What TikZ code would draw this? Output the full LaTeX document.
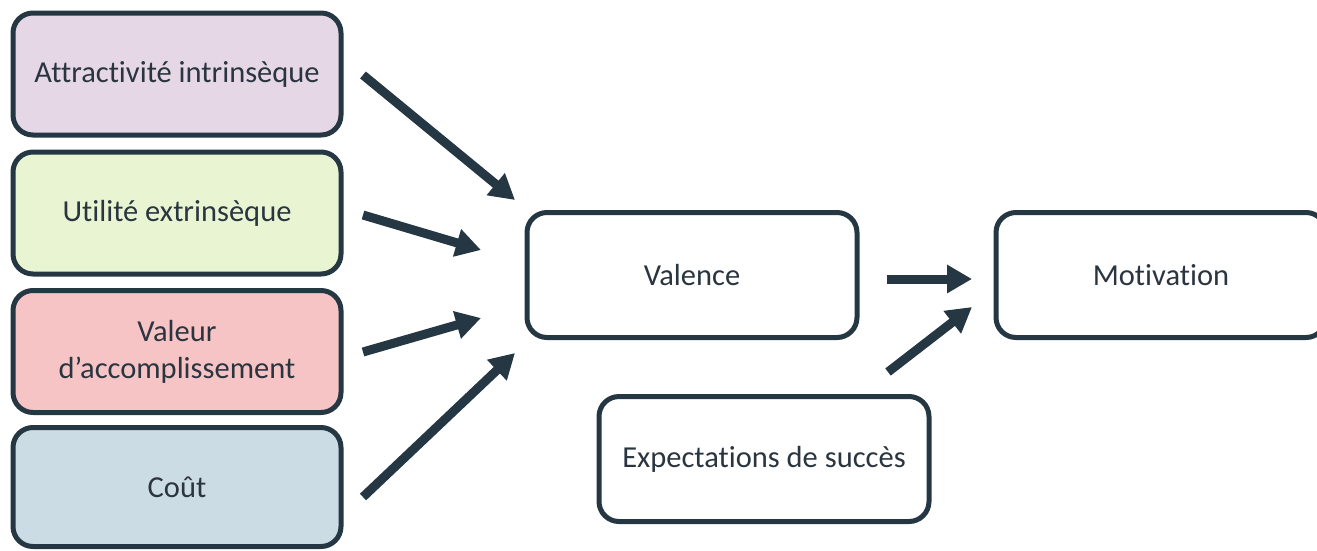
\documentclass[tikz,border=0pt]{standalone}
\usepackage{fontspec}
\setmainfont[Ligatures={NoCommon,NoContextual}]{Carlito}
\usetikzlibrary{arrows.meta}

\definecolor{ink}{HTML}{243743}
\definecolor{txt}{HTML}{2A3540}
\definecolor{fillA}{HTML}{E5D7E6}
\definecolor{fillB}{HTML}{E9F5D2}
\definecolor{fillC}{HTML}{F6C4C5}
\definecolor{fillD}{HTML}{CCDCE5}

\tikzset{
  box/.style={draw=ink, line width=5pt, rounded corners=20pt, align=center,
    text=txt, font=\fontsize{30.5}{37}\selectfont, inner sep=0pt},
  srcbox/.style={box, minimum width=328pt, minimum height=122pt},
  midbox/.style={box, minimum width=330pt, minimum height=125pt, fill=white},
  flow/.style={draw=ink, line width=9pt,
    -{Triangle[length=25pt, width=27pt]}}
}

\begin{document}
\begin{tikzpicture}[x=1pt, y=-1pt]
  \useasboundingbox (0,0) rectangle (1317,550);

  % value components
  \node[srcbox, fill=fillA] (attr) at (177,74) {Attractivité intrinsèque};
  \node[srcbox, fill=fillB] (util) at (177,213) {Utilité extrinsèque};
  \node[srcbox, fill=fillC] (acc)  at (177,351.5) {Valeur\\d’accomplissement};
  \node[srcbox, fill=fillD, minimum height=119pt] (cost) at (177,487) {Coût};

  % model terms
  \node[midbox] (val) at (692,275) {Valence};
  \node[midbox] (exp) at (764,459) {Expectations de succès};
  \node[midbox] (mot) at (1161,275) {Motivation};

  % arrow end points
  \coordinate (a1s) at (363,75);  \coordinate (a1e) at (515,200);
  \coordinate (a2s) at (363,215); \coordinate (a2e) at (481,250);
  \coordinate (a3s) at (363,352); \coordinate (a3e) at (481,318);
  \coordinate (a4s) at (363,497); \coordinate (a4e) at (515,353);
  \coordinate (a5s) at (887,279); \coordinate (a5e) at (972,279);
  \coordinate (a6s) at (888,372); \coordinate (a6e) at (972,307);

  \draw[flow] (a1s) -- (a1e);
  \draw[flow] (a2s) -- (a2e);
  \draw[flow] (a3s) -- (a3e);
  \draw[flow] (a4s) -- (a4e);
  \draw[flow] (a5s) -- (a5e);
  \draw[flow] (a6s) -- (a6e);
\end{tikzpicture}
\end{document}
